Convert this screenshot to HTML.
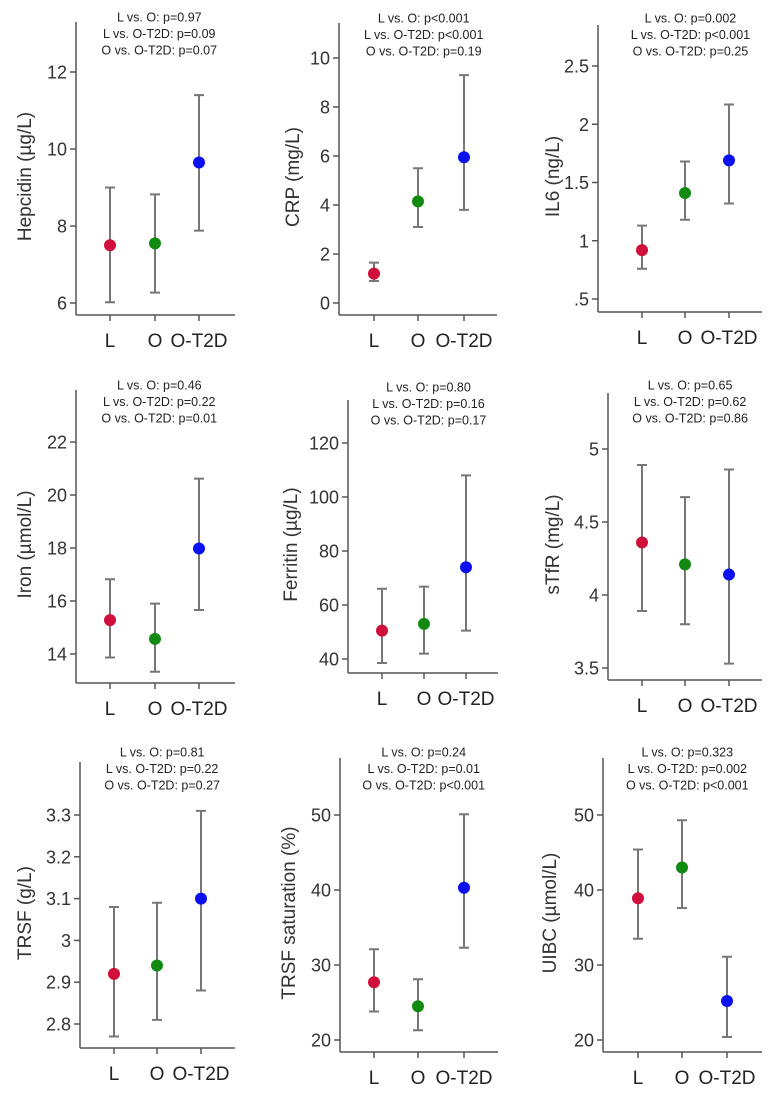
<!DOCTYPE html>
<html><head><meta charset="utf-8"><style>
html,body{margin:0;padding:0;background:#fff;}
svg{display:block;font-family:"Liberation Sans",sans-serif;}
</style></head><body>
<svg id="chart" width="779" height="1097" viewBox="0 0 779 1097"></svg>
<script>
const groups = ["L","O","O-T2D"];
const colors = ["#d0103a","#118a11","#0a10f0"];
const hepcidinMean=[7.5,7.55,9.65], hepcidinLo=[6.02,6.27,7.88], hepcidinHi=[9.0,8.82,11.4];
const crpMean=[1.2,4.15,5.95], crpLo=[0.9,3.1,3.8], crpHi=[1.65,5.5,9.3];
const il6Mean=[0.92,1.41,1.69], il6Lo=[0.76,1.18,1.32], il6Hi=[1.13,1.68,2.17];
const ironMean=[15.28,14.57,17.98], ironLo=[13.87,13.33,15.66], ironHi=[16.82,15.9,20.62];
const ferritinMean=[50.5,53,74], ferritinLo=[38.5,42,50.5], ferritinHi=[66,66.8,108];
const stfrMean=[4.36,4.21,4.14], stfrLo=[3.89,3.80,3.53], stfrHi=[4.89,4.67,4.86];
const trsfMean=[2.92,2.94,3.10], trsfLo=[2.77,2.81,2.88], trsfHi=[3.08,3.09,3.31];
const satMean=[27.7,24.5,40.3], satLo=[23.8,21.3,32.3], satHi=[32.1,28.1,50.1];
const uibcMean=[38.9,43.0,25.2], uibcLo=[33.5,37.6,20.4], uibcHi=[45.4,49.3,31.1];
const hepcidinTicks=["6","8","10","12"], crpTicks=["0","2","4","6","8","10"], il6Ticks=[".5","1","1.5","2","2.5"];
const ironTicks=["14","16","18","20","22"], ferritinTicks=["40","60","80","100","120"], stfrTicks=["3.5","4","4.5","5"];
const trsfTicks=["2.8","2.9","3","3.1","3.2","3.3"], satTicks=["20","30","40","50"], uibcTicks=["20","30","40","50"];

const panels=[
 {name:"hepcidin",title:"Hepcidin (µg/L)",p:["L vs. O: p=0.97","L vs. O-T2D: p=0.09","O vs. O-T2D: p=0.07"],m:hepcidinMean,lo:hepcidinLo,hi:hepcidinHi,ticks:hepcidinTicks,ax:76,top:22,bot:315,right:235,gx:[110,155,199],v0:6,y0:303,v1:12,y1:72,tx:25,py:17},
 {name:"crp",title:"CRP (mg/L)",p:["L vs. O: p<0.001","L vs. O-T2D: p<0.001","O vs. O-T2D: p=0.19"],m:crpMean,lo:crpLo,hi:crpHi,ticks:crpTicks,ax:339,top:23,bot:315,right:497,gx:[374,418,464],v0:0,y0:303,v1:10,y1:58,tx:293,py:18},
 {name:"il6",title:"IL6 (ng/L)",p:["L vs. O: p=0.002","L vs. O-T2D: p<0.001","O vs. O-T2D: p=0.25"],m:il6Mean,lo:il6Lo,hi:il6Hi,ticks:il6Ticks,ax:598,top:25,bot:312,right:762,gx:[642,685,729],v0:0.5,y0:299,v1:2.5,y1:66,tx:553,py:18},
 {name:"iron",title:"Iron (µmol/L)",p:["L vs. O: p=0.46","L vs. O-T2D: p=0.22","O vs. O-T2D: p=0.01"],m:ironMean,lo:ironLo,hi:ironHi,ticks:ironTicks,ax:76,top:390,bot:683,right:235,gx:[110,155,199],v0:14,y0:654,v1:22,y1:442,tx:25,py:385},
 {name:"ferritin",title:"Ferritin (µg/L)",p:["L vs. O: p=0.80","L vs. O-T2D: p=0.16","O vs. O-T2D: p=0.17"],m:ferritinMean,lo:ferritinLo,hi:ferritinHi,ticks:ferritinTicks,ax:348,top:400,bot:673,right:498,gx:[382,424,466],v0:40,y0:659,v1:120,y1:443,tx:291,py:387},
 {name:"stfr",title:"sTfR (mg/L)",p:["L vs. O: p=0.65","L vs. O-T2D: p=0.62","O vs. O-T2D: p=0.86"],m:stfrMean,lo:stfrLo,hi:stfrHi,ticks:stfrTicks,ax:608,top:393,bot:680,right:762,gx:[642,685,729],v0:3.5,y0:668,v1:5,y1:449,tx:553,py:385},
 {name:"trsf",title:"TRSF (g/L)",p:["L vs. O: p=0.81","L vs. O-T2D: p=0.22","O vs. O-T2D: p=0.27"],m:trsfMean,lo:trsfLo,hi:trsfHi,ticks:trsfTicks,ax:80,top:762,bot:1048,right:235,gx:[114,157,201],v0:2.8,y0:1024,v1:3.3,y1:815,tx:25,py:752},
 {name:"trsf-saturation",title:"TRSF saturation (%)",p:["L vs. O: p=0.24","L vs. O-T2D: p=0.01","O vs. O-T2D: p<0.001"],m:satMean,lo:satLo,hi:satHi,ticks:satTicks,ax:340,top:758,bot:1052,right:498,gx:[374,418,464],v0:20,y0:1040,v1:50,y1:815,tx:289,py:752},
 {name:"uibc",title:"UIBC (µmol/L)",p:["L vs. O: p=0.323","L vs. O-T2D: p=0.002","O vs. O-T2D: p<0.001"],m:uibcMean,lo:uibcLo,hi:uibcHi,ticks:uibcTicks,ax:603,top:758,bot:1052,right:762,gx:[638,682,727],v0:20,y0:1040,v1:50,y1:815,tx:550,py:752}
];
const svg=document.getElementById('chart');
const NS="http://www.w3.org/2000/svg";
function mk(tag,attrs,parent,text){const e=document.createElementNS(NS,tag);for(const k in attrs)e.setAttribute(k,attrs[k]);if(text!==undefined)e.textContent=text;parent.appendChild(e);return e;}
panels.forEach(P=>{
  const g=mk('g',{},svg);
  
  
  const y=v=>P.y0+(v-P.v0)*(P.y1-P.y0)/(P.v1-P.v0);
  const cx=(P.gx[0]+P.gx[2])/2+ (P.right-P.ax)*0.03;
  P.p.forEach((t,i)=>{
    const e=mk('text',{x:cx,y:P.py+i*16.5+4.5,'text-anchor':'middle','font-size':'12.5',fill:'#222'},g,t);
    
    
  });
  const ya=mk('line',{x1:P.ax,y1:P.top,x2:P.ax,y2:P.bot,stroke:'#555','stroke-width':1.5},g);
  
  
  const xa=mk('line',{x1:P.ax,y1:P.bot,x2:P.right,y2:P.bot,stroke:'#555','stroke-width':1.5},g);
  
  
  P.ticks.forEach(t=>{
    const v=parseFloat(t), yy=y(v);
    mk('line',{x1:P.ax-6,y1:yy,x2:P.ax,y2:yy,stroke:'#555','stroke-width':1.5},g);
    const e=mk('text',{x:P.ax-9,y:yy+6.5,'text-anchor':'end','font-size':'18',fill:'#333'},g,t);
    
    
  });
  const at=mk('text',{x:0,y:0,'text-anchor':'middle','font-size':'19',fill:'#333',transform:`translate(${P.tx+6},${(P.top+P.bot)/2+8}) rotate(-90)`},g,P.title);
  
  
  groups.forEach((gr,i)=>{
    const x=P.gx[i];
    mk('line',{x1:x,y1:P.bot,x2:x,y2:P.bot+6,stroke:'#555','stroke-width':1.5},g);
    const tl=mk('text',{x:x,y:P.bot+32,'text-anchor':'middle','font-size':'19',fill:'#222'},g,gr);
    
    
    const yl=y(P.lo[i]), yh=y(P.hi[i]);
    const eb=mk('path',{d:`M${x},${yl}V${yh}M${x-5},${yl}H${x+5}M${x-5},${yh}H${x+5}`,stroke:'#777','stroke-width':2,fill:'none'},g);
    
    
    const c=mk('circle',{cx:x,cy:y(P.m[i]),r:6,fill:colors[i]},g);
    
    
  });
});
</script>
</body></html>
